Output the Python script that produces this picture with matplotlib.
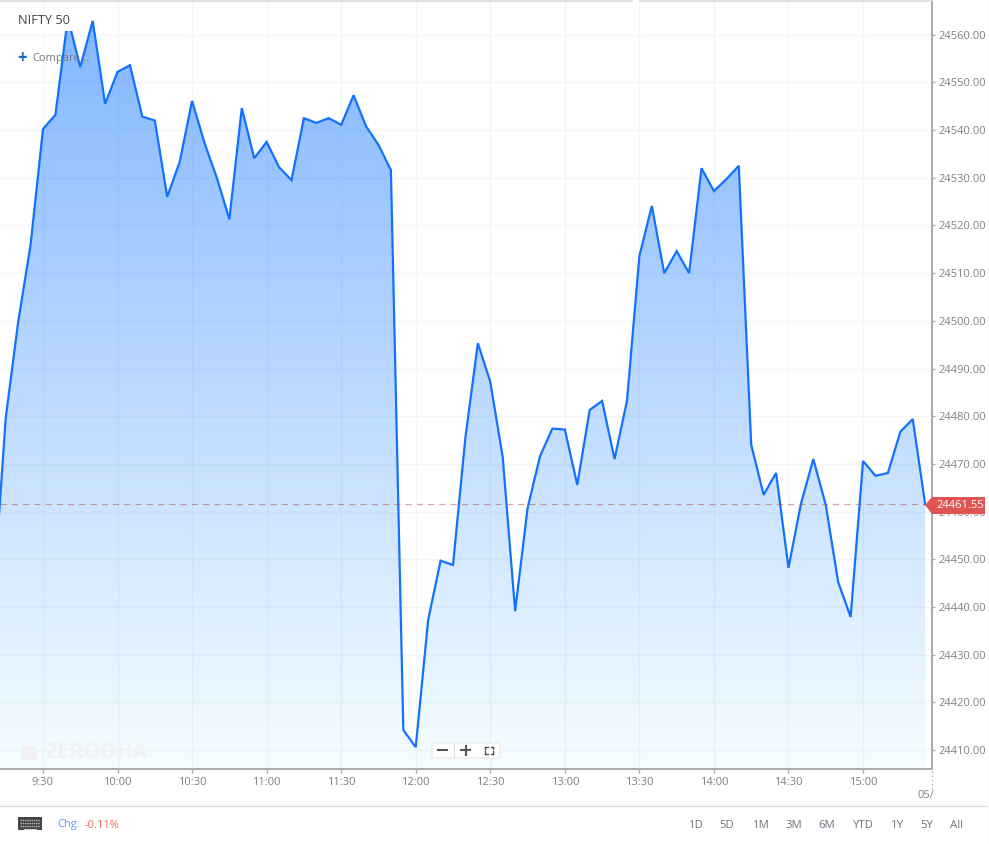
import numpy as np
import matplotlib
matplotlib.use('Agg')
import matplotlib.pyplot as plt
from matplotlib.patches import Rectangle, Polygon, FancyBboxPatch

plt.rcParams['font.family'] = ['Open Sans', 'DejaVu Sans']

# 5 minute closes, first one is off the left edge
closes = [24441.9, 24479.6, 24499.7, 24515.9, 24540.2, 24543.2, 24563.5, 24553.2, 24562.9, 24545.5,
          24552.2, 24553.6, 24542.8, 24542.0, 24526.0, 24533.3, 24546.1, 24537.3, 24529.9, 24521.3,
          24544.6, 24534.1, 24537.5, 24532.2, 24529.5, 24542.5, 24541.5, 24542.5, 24541.1, 24547.3,
          24540.8, 24536.9, 24531.6, 24414.2, 24410.6, 24437.3, 24449.7, 24448.8, 24475.6, 24495.3,
          24487.2, 24471.4, 24439.1, 24460.7, 24471.6, 24477.4, 24477.2, 24465.6, 24481.3, 24483.2,
          24471.0, 24483.2, 24513.6, 24524.1, 24510.0, 24514.6, 24510.0, 24532.0, 24527.2, 24529.7,
          24532.5, 24474.0, 24463.5, 24468.1, 24448.2, 24461.6, 24471.0, 24461.4, 24445.2, 24437.9,
          24470.6, 24467.5, 24468.1, 24476.7, 24479.4, 24461.55]
minutes = np.arange(550, 550 + 5 * len(closes), 5)

time_ticks = [570, 600, 630, 660, 690, 720, 750, 780, 810, 840, 870, 900]
time_labels = ['9:30', '10:00', '10:30', '11:00', '11:30', '12:00', '12:30', '13:00', '13:30', '14:00', '14:30', '15:00']
price_ticks = np.arange(24410, 24570, 10)
last_price = 24461.55
ranges = ['1D', '5D', '1M', '3M', '6M', 'YTD', '1Y', '5Y', 'All']
range_x = [696, 727, 761, 794, 827, 863, 897, 927, 957]

W, H = 989, 844
fig = plt.figure(figsize=(W / 100, H / 100), dpi=100, facecolor='white')
ax = fig.add_axes([0, 1 - 769 / H, 932 / W, 769 / H])
ax.set_xlim(552.7, 927.75)
ax.set_ylim(24406.02, 24567.27)
ax.set_facecolor('white')

ax.yaxis.tick_right()
ax.set_yticks(price_ticks)
ax.set_yticklabels([f'{p:.2f}' for p in price_ticks])
ax.set_xticks(time_ticks)
ax.set_xticklabels(time_labels)
ax.tick_params(axis='both', colors='#aaaaaa', labelcolor='#808080', labelsize=8, length=3, width=1, pad=3)
ax.tick_params(axis='y', pad=2.2, length=2.5)
ax.grid(True, color='#f4f5f6', lw=1)
ax.set_axisbelow(True)
for s in ['top', 'left']:
    ax.spines[s].set_visible(False)
for s in ['right', 'bottom']:
    ax.spines[s].set_color('#aaaaaa')
    ax.spines[s].set_linewidth(1.4)

# gradient fill under the line, colours read top and bottom of the area
t = np.linspace(0, 1, 256)
red = 128 + (245 - 128) * t
green = 181 + (253 - 181) * t
a = (255 - red) / (255 - 50)
grad = np.zeros((256, 1, 4))
grad[..., 0] = 50 / 255
grad[..., 1] = ((255 - (255 - green) / a) / 255)[:, None].clip(0, 1)
grad[..., 2] = 1.0
grad[..., 3] = a[:, None]
im = ax.imshow(grad, extent=[*ax.get_xlim(), *ax.get_ylim()], origin='upper', aspect='auto', zorder=2)
poly = ax.fill_between(minutes, closes, 24406.02, facecolor='none', edgecolor='none')
im.set_clip_path(poly.get_paths()[0], transform=ax.transData)

ax.plot(minutes, closes, color='#1272ff', lw=1.6, zorder=3, solid_joinstyle='miter')
ax.plot([552.7, minutes[-1]], [last_price, last_price], color='#b04a4a', alpha=0.5, lw=0.9, ls=(0, (5, 4)), zorder=4)

# overlay in pixel coordinates for the chart furniture
ov = fig.add_axes([0, 0, 1, 1], facecolor='none')
ov.set_xlim(0, W)
ov.set_ylim(H, 0)
ov.axis('off')

ov.plot([0, 632], [0.5, 0.5], color='#dddddd', lw=1.2)
ov.plot([640, 932], [0.5, 0.5], color='#dddddd', lw=1.2)
ov.plot([0, 986], [805.5, 805.5], color='#dddddd', lw=1)
ov.plot([988.5, 988.5], [0, H], color='#eeeeee', lw=1)
ov.plot([932, 932], [771, 790], color='#aaaaaa', lw=1, ls=(0, (1, 2)))

ov.add_patch(Rectangle((14, 13), 58, 18, fc='white', ec='none'))
ov.text(18, 20.5, 'NIFTY 50', fontsize=9.2, color='#444444', va='center')
ov.text(22.5, 58, '+', fontsize=12, color='#1a66cc', fontweight='bold', va='center', ha='center')
ov.text(32, 58, 'Compare...', fontsize=8, color='#777777', va='center')

# watermark
ov.add_patch(Polygon([(22, 745), (33, 745), (38, 750), (38, 760), (22, 760)], fc='#eff1f4', ec='none'))
ov.text(46, 752.5, 'ZERODHA', fontsize=15.5, color='#eff1f4', fontweight='bold', va='center')

# zoom buttons
ov.add_patch(FancyBboxPatch((432, 743), 68, 15, boxstyle='round,pad=0,rounding_size=2', fc='white', ec='#e8e8e8', lw=0.8))
ov.plot([453.5, 453.5], [744, 757], color='#dddddd', lw=0.8)
ov.plot([438, 447], [750, 750], color='#555555', lw=1.5)
ov.plot([461, 470], [750, 750], color='#555555', lw=1.5)
ov.plot([465.5, 465.5], [746, 755], color='#555555', lw=1.5)
for sx, sy in [(-1, -1), (1, -1), (-1, 1), (1, 1)]:
    cx, cy = 489 + sx * 4, 750 + sy * 3.5
    ov.plot([cx, cx - sx * 2.5], [cy, cy], color='#555555', lw=1)
    ov.plot([cx, cx], [cy, cy - sy * 2.5], color='#555555', lw=1)

# last price flag
ov.add_patch(Polygon([(925, 505), (932, 497), (985, 497), (985, 514), (932, 514)], fc='#e05552', ec='none', joinstyle='round'))
ov.text(960, 505.5, f'{last_price:.2f}', fontsize=8, color='white', ha='center', va='center')

date_txt = ov.text(918, 795, '05/', fontsize=8, color='#808080', va='center')
date_txt.set_clip_path(Rectangle((900, 785), 32, 20, transform=ov.transData))

# bottom bar
ov.add_patch(Rectangle((18, 817), 24, 13, fc='#444444', ec='none'))
for row, y in enumerate([820, 823, 826]):
    ov.plot([20, 40], [y, y], color='#bbbbbb', lw=1, ls=(0, (1, 0.6)))
ov.plot([24, 36], [828.5, 828.5], color='#cccccc', lw=0.8)
ov.text(57, 825, 'Chg.', fontsize=8, color='#5b9cf2', va='center')
ov.text(85, 825, '-0.11%', fontsize=8, color='#ee6a62', va='center')
for label, x in zip(ranges, range_x):
    ov.text(x, 825, label, fontsize=8.2, color='#6b7580', ha='center', va='center')

fig.savefig('out.png', dpi=100)
